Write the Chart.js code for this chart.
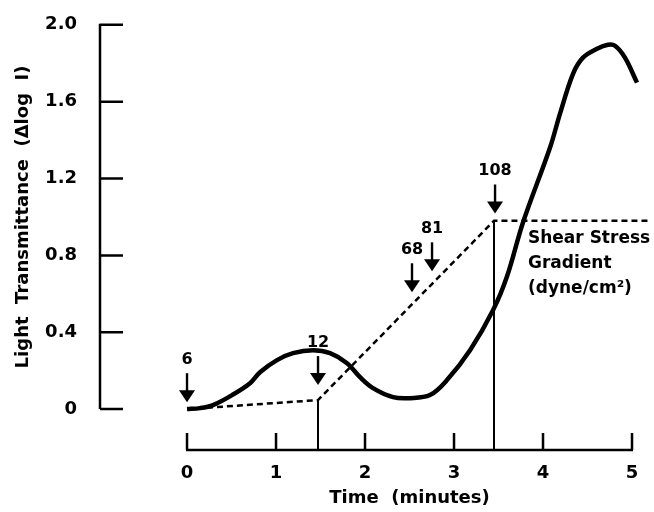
<!DOCTYPE html>
<html><head><meta charset="utf-8">
<script src="https://cdn.jsdelivr.net/npm/chart.js@4/dist/chart.umd.min.js"></script>
<style>html,body{margin:0;padding:0;background:#fff}#wrap{width:654px;height:512px}</style>
</head><body><div id="wrap"><canvas id="c" width="654" height="512"></canvas></div>
<script>
// ---- data ----
const timeMin = [0, 0.146, 0.292, 0.506, 0.708, 0.820, 1.011, 1.191, 1.416, 1.607, 1.798, 1.944, 2.090, 2.315, 2.506, 2.730, 2.921, 3.180, 3.438, 3.596, 3.775, 4.079, 4.191, 4.337, 4.449, 4.607, 4.730, 4.809, 4.921, 5.056];
const transmittance = [0, 0.005, 0.021, 0.073, 0.135, 0.192, 0.255, 0.291, 0.306, 0.291, 0.239, 0.166, 0.109, 0.062, 0.057, 0.073, 0.151, 0.306, 0.514, 0.691, 0.971, 1.361, 1.538, 1.745, 1.829, 1.875, 1.896, 1.891, 1.829, 1.699];
const shearTime = [0, 1.472, 3.449, 5.2];
const shearLevel = [0, 0.047, 0.98, 0.98];
const stepTimes = [1.472, 3.449];
const stepTops = [0.047, 0.98];
const arrowLabels = ['6', '12', '68', '81', '108'];
const arrowTimes = [0, 1.472, 2.528, 2.753, 3.461];
const arrowTips = [0.036, 0.125, 0.608, 0.717, 1.018];
const shearText = ['Shear Stress', 'Gradient', '(dyne/cm²)'];
const shearTextAt = [3.831, 0.862];
const xTicks = [0, 1, 2, 3, 4, 5];
const xTickLabels = ['0', '1', '2', '3', '4', '5'];
const yTicks = [0, 0.4, 0.8, 1.2, 1.6, 2.0];
const yTickLabels = ['0', '0.4', '0.8', '1.2', '1.6', '2.0'];
const xTitle = 'Time  (minutes)';
const yTitle = 'Light  Transmittance  (Δlog  I)';
const X_MIN = -0.989, X_MAX = 5.247, Y_MIN = -0.218, Y_MAX = 2.0;

const FONT = 'DejaVu Sans';
const pts = (xs, ys) => xs.map((x, i) => ({x: x, y: ys[i]}));

const decor = {
  id: 'decor',
  afterDraw(chart) {
    const c = chart.ctx, xs = chart.scales.x, ys = chart.scales.y;
    c.save();
    c.strokeStyle = '#000'; c.fillStyle = '#000'; c.lineCap = 'butt';
    // y axis
    const ax = chart.chartArea.left + 1;
    c.lineWidth = 2.5;
    c.beginPath();
    c.moveTo(ax, ys.getPixelForValue(yTicks[0]));
    c.lineTo(ax, ys.getPixelForValue(yTicks[yTicks.length - 1]) - 1);
    yTicks.forEach(v => { const p = ys.getPixelForValue(v); c.moveTo(ax, p); c.lineTo(ax + 23, p); });
    c.stroke();
    // x axis
    const ay = chart.chartArea.bottom - 1;
    c.beginPath();
    c.moveTo(xs.getPixelForValue(xTicks[0]) - 1, ay);
    c.lineTo(xs.getPixelForValue(xTicks[xTicks.length - 1]) + 1, ay);
    xTicks.forEach(v => { const p = xs.getPixelForValue(v); c.moveTo(p, ay); c.lineTo(p, ay - 17); });
    c.stroke();
    // axis titles
    c.font = 'bold 18px "' + FONT + '"';
    c.textAlign = 'center'; c.textBaseline = 'alphabetic';
    c.fillText(xTitle, (xs.getPixelForValue(xTicks[0]) + xs.getPixelForValue(xTicks[xTicks.length - 1])) / 2, 503);
    c.save();
    c.translate(23, (ys.getPixelForValue(yTicks[0]) + ys.getPixelForValue(yTicks[yTicks.length - 1])) / 2);
    c.rotate(-Math.PI / 2);
    c.textBaseline = 'middle';
    c.fillText(yTitle, 0, 0);
    c.restore();
    // arrows
    c.font = 'bold 16px "' + FONT + '"';
    arrowLabels.forEach((lab, i) => {
      const x = xs.getPixelForValue(arrowTimes[i]);
      const tip = ys.getPixelForValue(arrowTips[i]);
      const tail = tip - 29;
      c.lineWidth = 2.4;
      c.beginPath(); c.moveTo(x, tail); c.lineTo(x, tip - 8); c.stroke();
      c.beginPath(); c.moveTo(x - 8, tip - 12); c.lineTo(x + 8, tip - 12); c.lineTo(x, tip); c.closePath(); c.fill();
      c.textAlign = 'center'; c.textBaseline = 'alphabetic';
      c.fillText(lab, x, tail - 9);
    });
    // shear stress text
    c.font = 'bold 17px "' + FONT + '"';
    c.textAlign = 'left';
    const tx = xs.getPixelForValue(shearTextAt[0]);
    const ty = ys.getPixelForValue(shearTextAt[1]);
    shearText.forEach((s, i) => c.fillText(s, tx, ty + i * 25));
    c.restore();
  }
};

const tickFont = {family: FONT, weight: 'bold', size: 18};
new Chart(document.getElementById('c'), {
  type: 'line',
  data: {
    datasets: [
      {data: pts(timeMin, transmittance), borderColor: '#000', borderWidth: 4.5, pointRadius: 0, tension: 0.35, fill: false},
      {data: pts(shearTime, shearLevel), borderColor: '#000', borderWidth: 2.5, borderDash: [6, 4], pointRadius: 0, tension: 0, fill: false},
      {data: [{x: stepTimes[0], y: stepTops[0]}, {x: stepTimes[0], y: Y_MIN}], borderColor: '#000', borderWidth: 2, pointRadius: 0, fill: false},
      {data: [{x: stepTimes[1], y: stepTops[1]}, {x: stepTimes[1], y: Y_MIN}], borderColor: '#000', borderWidth: 2, pointRadius: 0, fill: false}
    ]
  },
  options: {
    responsive: false, animation: false, devicePixelRatio: 1,
    layout: {padding: {top: 24, left: 0, right: 0, bottom: 0}},
    plugins: {legend: {display: false}, tooltip: {enabled: false}},
    scales: {
      x: {
        type: 'linear', min: X_MIN, max: X_MAX,
        afterBuildTicks: s => { s.ticks = xTicks.map(v => ({value: v})); },
        afterFit: s => { s.height = 61; },
        grid: {display: false}, border: {display: false},
        ticks: {padding: 4, font: tickFont, color: '#000', autoSkip: false, maxRotation: 0, callback: (v, i) => xTickLabels[i]}
      },
      y: {
        type: 'linear', min: Y_MIN, max: Y_MAX,
        afterBuildTicks: s => { s.ticks = yTicks.map(v => ({value: v})); },
        afterFit: s => { s.width = 99; },
        grid: {display: false}, border: {display: false},
        ticks: {padding: 14, font: tickFont, color: '#000', autoSkip: false, callback: (v, i) => yTickLabels[i]}
      }
    }
  },
  plugins: [decor]
});
</script></body></html>
